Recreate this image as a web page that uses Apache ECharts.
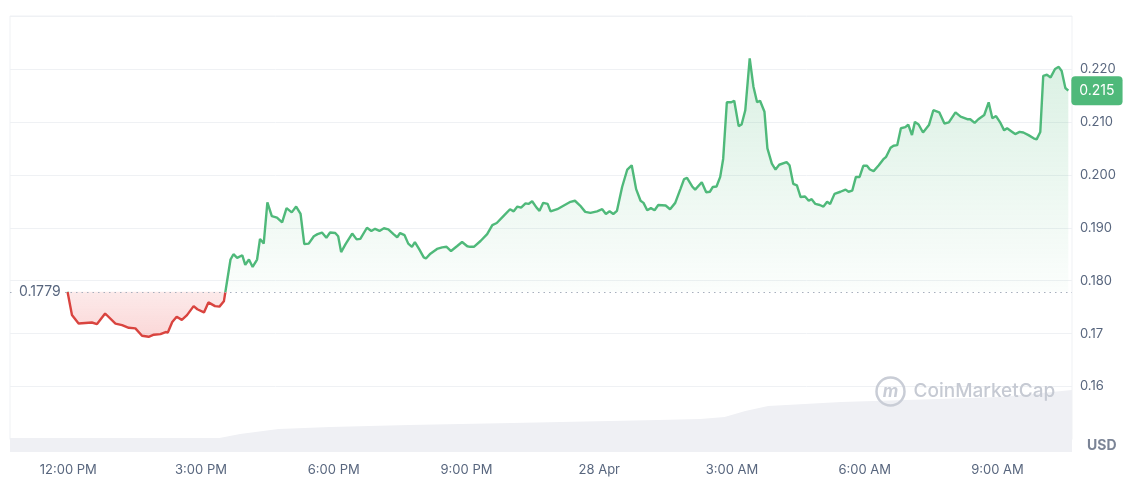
<!DOCTYPE html>
<html>
<head>
<meta charset="utf-8">
<script src="https://cdn.jsdelivr.net/npm/echarts@6/dist/echarts.min.js"></script>
<style>
html,body{margin:0;padding:0;background:#fff;}
#chart{width:1140px;height:482px;}
</style>
</head>
<body>
<div id="chart"></div>
<script>
// ---- data ----
const openPrice = 0.1779;
const lastPriceLabel = '0.215';
const times = ['11:59','12:05','12:14','12:32','12:39','12:50','13:04','13:13','13:22','13:31','13:40','13:49','13:56','14:05','14:12','14:15','14:21','14:27','14:34','14:41','14:50','14:55','15:04','15:10','15:19','15:25','15:31','15:35','15:40','15:44','15:49','15:56','16:00','16:05','16:10','16:16','16:20','16:25','16:30','16:36','16:43','16:50','16:56','17:03','17:09','17:15','17:20','17:26','17:33','17:38','17:44','17:50','17:55','18:02','18:06','18:10','18:16','18:25','18:31','18:36','18:45','18:51','18:56','19:02','19:08','19:14','19:21','19:26','19:30','19:36','19:41','19:46','19:50','19:56','20:02','20:05','20:11','20:20','20:27','20:33','20:39','20:47','20:54','21:01','21:05','21:10','21:19','21:28','21:35','21:41','21:50','21:59','22:04','22:09','22:14','22:20','22:24','22:29','22:35','22:39','22:44','22:50','22:54','23:03','23:12','23:21','23:27','23:34','23:41','23:48','23:57','00:04','00:09','00:14','00:19','00:24','00:31','00:38','00:44','00:50','00:56','01:00','01:05','01:10','01:15','01:20','01:30','01:36','01:43','01:50','01:55','01:59','02:06','02:10','02:19','02:25','02:30','02:34','02:39','02:44','02:48','02:53','02:59','03:03','03:09','03:13','03:18','03:24','03:29','03:34','03:38','03:44','03:48','03:54','03:59','04:04','04:14','04:18','04:23','04:28','04:33','04:39','04:44','04:48','04:53','04:59','05:04','05:09','05:13','05:19','05:27','05:34','05:38','05:43','05:48','05:53','05:58','06:03','06:07','06:12','06:19','06:25','06:29','06:35','06:39','06:44','06:49','06:55','06:59','07:04','07:08','07:13','07:19','07:27','07:33','07:41','07:48','07:54','08:03','08:10','08:19','08:23','08:29','08:34','08:42','08:48','08:53','08:58','09:04','09:09','09:13','09:20','09:24','09:30','09:35','09:42','09:49','09:53','09:58','10:02','10:07','10:12','10:18','10:23','10:27','10:32','10:36'];
const prices = [0.1779,0.1735,0.1719,0.1721,0.1718,0.1738,0.1719,0.1716,0.1711,0.1710,0.1696,0.1694,0.1698,0.1699,0.1703,0.1702,0.1722,0.1732,0.1726,0.1735,0.1752,0.1746,0.1740,0.1759,0.1752,0.1751,0.1761,0.1796,0.1840,0.1850,0.1843,0.1848,0.1830,0.1840,0.1826,0.1840,0.1879,0.1870,0.1948,0.1922,0.1919,0.1910,0.1937,0.1929,0.1940,0.1926,0.1869,0.1870,0.1884,0.1888,0.1891,0.1881,0.1891,0.1890,0.1884,0.1854,0.1869,0.1889,0.1878,0.1879,0.1900,0.1894,0.1898,0.1894,0.1899,0.1897,0.1888,0.1882,0.1890,0.1886,0.1870,0.1864,0.1873,0.1859,0.1844,0.1842,0.1851,0.1860,0.1863,0.1864,0.1856,0.1865,0.1873,0.1865,0.1864,0.1864,0.1875,0.1888,0.1905,0.1909,0.1922,0.1935,0.1931,0.1940,0.1938,0.1946,0.1945,0.1950,0.1938,0.1932,0.1947,0.1945,0.1931,0.1935,0.1942,0.1949,0.1951,0.1942,0.1930,0.1928,0.1931,0.1935,0.1926,0.1931,0.1926,0.1932,0.1977,0.2010,0.2018,0.1973,0.1951,0.1947,0.1933,0.1937,0.1933,0.1943,0.1942,0.1935,0.1947,0.1973,0.1992,0.1994,0.1978,0.1972,0.1986,0.1967,0.1968,0.1977,0.1978,0.1996,0.2030,0.2137,0.2137,0.2140,0.2092,0.2095,0.2122,0.2220,0.2167,0.2137,0.2140,0.2119,0.2050,0.2021,0.2010,0.2019,0.2024,0.2018,0.1983,0.1980,0.1958,0.1959,0.1951,0.1954,0.1945,0.1943,0.1940,0.1949,0.1945,0.1964,0.1968,0.1972,0.1968,0.1970,0.1996,0.1996,0.2017,0.2017,0.2010,0.2007,0.2018,0.2029,0.2034,0.2051,0.2055,0.2056,0.2088,0.2090,0.2095,0.2075,0.2100,0.2095,0.2080,0.2094,0.2122,0.2118,0.2097,0.2099,0.2118,0.2110,0.2105,0.2105,0.2098,0.2105,0.2113,0.2137,0.2107,0.2111,0.2098,0.2084,0.2088,0.2081,0.2077,0.2081,0.2080,0.2075,0.2069,0.2067,0.2081,0.2187,0.2189,0.2184,0.2200,0.2204,0.2196,0.2164,0.2159];
const volTimes = ['10:41','15:25','15:53','16:45','17:55','19:42','22:02','01:20','02:17','02:50','03:18','03:49','05:28','06:56','09:04','10:41'];
const volumes = [14,14,18,23,25,27,29,32,33,35,41,46,50,52,55,62];
const xTickLabels = ['12:00 PM','3:00 PM','6:00 PM','9:00 PM','28 Apr','3:00 AM','6:00 AM','9:00 AM'];
const xTickTimes = ['12:00','15:00','18:00','21:00','00:00','03:00','06:00','09:00'];
const yTickValues = [0.16,0.17,0.18,0.19,0.20,0.21,0.22];
const yTickLabels = ['0.16','0.17','0.180','0.190','0.200','0.210','0.220'];

// minutes relative to 27 Apr 12:00, rolling over midnight
function toMinutes(list) {
  let day = 0, prev = -1, out = [];
  list.forEach(function (t) {
    const p = t.split(':');
    const m = (+p[0]) * 60 + (+p[1]);
    if (prev >= 0 && m < prev) day++;
    prev = m;
    out.push(m + day * 1440 - 720);
  });
  return out;
}
const tMin = toMinutes(times);
const vMin = toMinutes(volTimes);
const xTicks = toMinutes(xTickTimes);
const xMin = vMin[0], xMax = vMin[vMin.length - 1];

const lineData = tMin.map((m, i) => [m, prices[i]]);
const greenArea = tMin.map((m, i) => [m, Math.max(prices[i], openPrice)]);
const redArea = tMin.map((m, i) => [m, Math.min(prices[i], openPrice)]);
const volData = vMin.map((m, i) => [m, volumes[i]]);

const GREEN = '#4fb97a', RED = '#d9443f', LABEL = '#58667e', GRID = '#eff1f4';
const FONT = 'Inter, "Noto Sans", sans-serif';
const Y_MIN = 0.15, Y_MAX = 0.23;

const chart = echarts.init(document.getElementById('chart'), null, {renderer: 'canvas'});
const option = {
  animation: false,
  textStyle: {fontFamily: FONT},
  grid: [
    {left: 10, right: 68, top: 16, bottom: 42.5, show: true, borderColor: GRID, borderWidth: 1, backgroundColor: 'transparent'},
    {left: 10, right: 68, top: 352, bottom: 30}
  ],
  xAxis: [
    {type: 'value', gridIndex: 0, min: xMin, max: xMax, show: false},
    {type: 'value', gridIndex: 1, min: xMin, max: xMax,
     axisLine: {show: false}, axisTick: {show: false}, splitLine: {show: false},
     axisLabel: {customValues: xTicks, margin: 12, color: LABEL, fontSize: 13, fontFamily: FONT,
       formatter: function (v) { const i = xTicks.indexOf(v); return i >= 0 ? xTickLabels[i] : ''; }}}
  ],
  yAxis: [
    {type: 'value', gridIndex: 0, position: 'right', min: Y_MIN, max: Y_MAX, interval: 0.01,
     axisLine: {show: false}, axisTick: {show: false},
     splitLine: {show: true, lineStyle: {color: GRID, width: 1}},
     axisLabel: {customValues: yTickValues, margin: 8, color: LABEL, fontSize: 13, fontFamily: FONT,
       formatter: function (v) { for (let i = 0; i < yTickValues.length; i++) { if (Math.abs(yTickValues[i] - v) < 1e-6) return yTickLabels[i]; } return ''; }}},
    {type: 'value', gridIndex: 1, min: 0, max: 100, show: false}
  ],
  series: [
    {type: 'line', xAxisIndex: 0, yAxisIndex: 0, data: greenArea, symbol: 'none', silent: true,
     lineStyle: {width: 0}, z: 1,
     areaStyle: {origin: openPrice, color: new echarts.graphic.LinearGradient(0, 0, 0, 1, [
       {offset: 0, color: 'rgba(79,185,122,0.30)'}, {offset: 1, color: 'rgba(79,185,122,0.03)'}])}},
    {type: 'line', xAxisIndex: 0, yAxisIndex: 0, data: redArea, symbol: 'none', silent: true,
     lineStyle: {width: 0}, z: 1,
     areaStyle: {origin: openPrice, color: new echarts.graphic.LinearGradient(0, 0, 0, 1, [
       {offset: 0, color: 'rgba(234,67,67,0.16)'}, {offset: 1, color: 'rgba(234,67,67,0.30)'}])}},
    {type: 'line', xAxisIndex: 0, yAxisIndex: 0, data: lineData, symbol: 'none', z: 3,
     lineStyle: {width: 2.4, color: GREEN},
     endLabel: {show: true, formatter: lastPriceLabel, color: '#fff', backgroundColor: GREEN,
       borderRadius: 4, padding: [8, 8, 7, 8], fontSize: 14, fontFamily: FONT, distance: 3},
     markLine: {silent: true, symbol: 'none', precision: 4,
       lineStyle: {color: '#a7afbd', type: [1.5, 4], width: 1.2},
       label: {show: true, position: 'insideStart', formatter: String(openPrice), color: LABEL,
         fontSize: 14, fontFamily: FONT, backgroundColor: '#fff', padding: [2, 4], distance: 5},
       data: [{yAxis: openPrice}]}},
    {type: 'line', xAxisIndex: 1, yAxisIndex: 1, data: volData, symbol: 'none', silent: true, z: 2,
     lineStyle: {width: 0}, areaStyle: {color: '#eff0f4', opacity: 1}}
  ],
  graphic: [
    {type: 'text', left: 1087, top: 439, z: 100, style: {text: 'USD', fill: '#7b8496', font: 'bold 14px ' + FONT}},
    {type: 'group', left: 874, top: 375, z: 100, children: [
      {type: 'circle', z: 100, shape: {cx: 15, cy: 15, r: 14}, style: {fill: 'none', stroke: '#c9cdd6', lineWidth: 2.5}},
      {type: 'text', z: 100, x: 15, y: 15, style: {text: 'm', fill: '#c9cdd6', font: 'italic bold 17px ' + FONT, align: 'center', verticalAlign: 'middle'}},
      {type: 'text', z: 100, x: 38, y: 15, style: {text: 'CoinMarketCap', fill: '#c6cad3', font: '500 19px ' + FONT, verticalAlign: 'middle'}}
    ]}
  ]
};
chart.setOption(option);
// colour the price line red below the opening price, green above (split exactly at the open level)
const yTop = chart.convertToPixel({yAxisIndex: 0}, Y_MAX);
const yBot = chart.convertToPixel({yAxisIndex: 0}, Y_MIN);
const off = (Y_MAX - openPrice) / (Y_MAX - Y_MIN);
chart.setOption({series: [{}, {}, {lineStyle: {color: new echarts.graphic.LinearGradient(0, yTop, 0, yBot, [
  {offset: 0, color: GREEN}, {offset: off, color: GREEN}, {offset: off, color: RED}, {offset: 1, color: RED}], true)}}]});
</script>
</body>
</html>
